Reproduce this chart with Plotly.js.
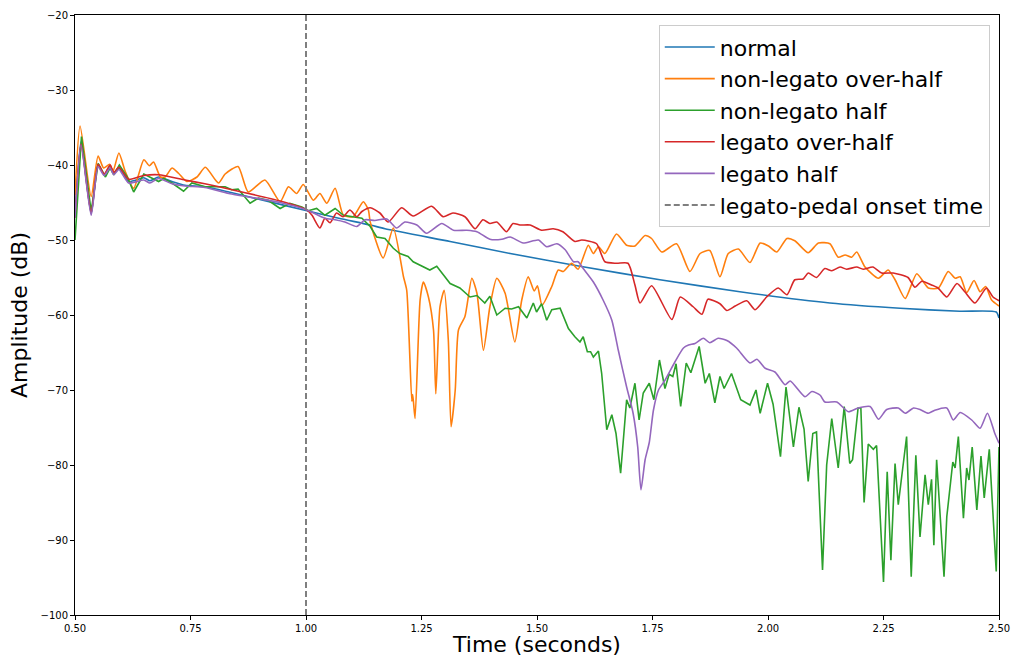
<!DOCTYPE html>
<html>
<head>
<meta charset="utf-8">
<script src="https://cdn.plot.ly/plotly-3.0.1.min.js"></script>
<style>html,body{margin:0;padding:0;background:#fff;}#chart{width:1014px;height:657px;}</style>
</head>
<body>
<div id="chart"></div>
<script>
// ---- data (time in seconds, amplitude in dB) ----
const seriesNames = ["normal", "non-legato over-half", "non-legato half", "legato over-half", "legato half"];
const seriesColors = ["#1f77b4", "#ff7f0e", "#2ca02c", "#d62728", "#9467bd"];

const normalT = [0.500,0.513,0.535,0.550,0.563,0.576,0.584,0.595,0.616,0.649,0.662,0.681,0.710,0.738,0.781,0.833,0.900,1.002,1.071,1.139,1.171,1.312,1.442,1.593,1.766,1.939,2.134,2.286,2.415,2.494,2.500];
const normalDb = [-47,-36.9,-46.5,-39.9,-41.3,-40.1,-41.1,-40.4,-42.2,-41.7,-42.1,-41.6,-42.2,-42.7,-42.9,-43.6,-44.6,-46.1,-47.1,-48.0,-48.5,-50.2,-51.8,-53.5,-55.3,-56.9,-58.4,-59.1,-59.5,-59.6,-60.4];

const nlOverT = [0.500,0.511,0.535,0.550,0.562,0.575,0.582,0.595,0.609,0.627,0.649,0.661,0.670,0.685,0.695,0.710,0.724,0.742,0.764,0.782,0.804,0.811,0.825,0.853,0.875,0.911,0.944,0.962,0.980,0.994,1.016,1.030,1.045,1.063,1.081,1.102,1.124,1.135,1.139,1.167,1.189,1.211,1.218,1.229,1.231,1.236,1.247,1.254,1.265,1.276,1.281,1.290,1.299,1.308,1.314,1.323,1.330,1.344,1.359,1.370,1.384,1.398,1.413,1.431,1.452,1.467,1.481,1.494,1.501,1.511,1.532,1.546,1.557,1.575,1.589,1.611,1.622,1.633,1.647,1.672,1.694,1.712,1.734,1.748,1.770,1.802,1.831,1.853,1.874,1.896,1.914,1.936,1.961,1.983,2.001,2.019,2.041,2.058,2.087,2.109,2.134,2.152,2.167,2.181,2.192,2.210,2.239,2.260,2.275,2.297,2.322,2.347,2.369,2.390,2.405,2.416,2.430,2.446,2.459,2.471,2.484,2.500];
const nlOverDb = [-44,-34.8,-44.2,-38.8,-40.4,-39.9,-40.9,-38.4,-40.9,-43.1,-39.3,-40.1,-39.6,-41.6,-41.6,-40.4,-41.1,-42.2,-41.6,-40.3,-42.0,-42.4,-41.2,-40.2,-43.6,-42.0,-44.9,-42.9,-43.8,-42.6,-44.7,-43.8,-45.1,-43.1,-46.7,-46.9,-44.9,-46.0,-47.6,-52.4,-48.4,-54.9,-56.7,-71.5,-70.6,-73.8,-58.0,-55.6,-57.6,-62.0,-70.5,-58.9,-56.7,-63.3,-74.9,-70.0,-62.0,-60.2,-55.1,-57.1,-64.7,-58.9,-55.1,-57.1,-63.6,-58.0,-54.9,-56.8,-56.1,-58.7,-56.2,-54.0,-54.2,-53.1,-53.9,-50.7,-51.8,-50.9,-51.8,-49.2,-50.7,-50.8,-49.4,-49.8,-51.6,-50.5,-54.2,-51.8,-51.4,-54.9,-51.8,-51.2,-53.0,-50.4,-50.8,-51.6,-49.8,-50.1,-51.7,-50.4,-50.5,-52.3,-52.0,-52.3,-51.6,-53.6,-55.1,-54.0,-55.3,-57.8,-54.5,-56.4,-56.4,-54.2,-55.1,-54.9,-57.0,-55.4,-56.9,-56.2,-58.0,-58.8];

const nlHalfT = [0.500,0.514,0.535,0.550,0.566,0.576,0.584,0.596,0.613,0.627,0.649,0.663,0.681,0.692,0.710,0.735,0.753,0.782,0.825,0.839,0.853,0.879,0.897,0.918,0.944,0.965,0.991,1.005,1.023,1.041,1.063,1.081,1.099,1.121,1.139,1.153,1.171,1.189,1.203,1.221,1.232,1.254,1.268,1.283,1.312,1.333,1.355,1.370,1.387,1.398,1.413,1.431,1.445,1.460,1.478,1.492,1.499,1.510,1.521,1.532,1.550,1.568,1.582,1.593,1.600,1.609,1.616,1.622,1.633,1.640,1.651,1.662,1.671,1.681,1.690,1.694,1.701,1.712,1.721,1.730,1.743,1.753,1.765,1.777,1.786,1.794,1.801,1.811,1.823,1.833,1.851,1.864,1.873,1.885,1.896,1.905,1.921,1.941,1.961,1.974,1.983,1.999,2.011,2.027,2.039,2.055,2.067,2.078,2.087,2.097,2.105,2.118,2.127,2.138,2.152,2.165,2.177,2.183,2.195,2.201,2.208,2.217,2.228,2.235,2.250,2.258,2.266,2.275,2.282,2.289,2.300,2.310,2.320,2.329,2.340,2.347,2.354,2.359,2.365,2.381,2.387,2.400,2.405,2.412,2.423,2.430,2.435,2.442,2.452,2.461,2.468,2.479,2.494,2.500];
const nlHalfDb = [-50,-36.2,-46.2,-39.8,-41.6,-40.4,-41.3,-40.0,-41.6,-43.6,-41.2,-41.6,-42.2,-41.8,-42.4,-43.5,-42.4,-42.9,-42.9,-43.3,-43.2,-45.1,-44.4,-44.7,-45.8,-45.1,-45.6,-46.1,-45.8,-46.7,-45.8,-46.7,-46.9,-47.1,-48.2,-49.6,-49.8,-51.1,-51.8,-52.2,-52.9,-53.6,-54.0,-53.5,-55.8,-56.4,-57.6,-57.4,-58.4,-57.5,-60.0,-59.1,-59.2,-58.9,-60.4,-58.4,-59.6,-58.5,-60.7,-59.3,-59.1,-61.8,-62.9,-63.6,-62.9,-64.9,-64.9,-65.6,-64.8,-67.8,-75.3,-73.3,-75.8,-81.1,-73.6,-71.3,-72.4,-69.1,-74.0,-70.4,-69.1,-71.3,-66.0,-69.8,-67.9,-68.2,-66.5,-72.2,-66.4,-67.7,-64.2,-69.1,-67.8,-71.7,-68.2,-69.8,-67.8,-71.3,-72.0,-70.0,-73.1,-69.1,-71.9,-78.9,-69.6,-77.6,-72.3,-75.2,-82.2,-75.8,-75.6,-94.0,-80.0,-73.8,-80.4,-72.2,-79.8,-79.3,-72.4,-72.4,-85.0,-77.2,-77.9,-77.4,-95.6,-80.9,-92.7,-79.8,-85.3,-82.0,-76.2,-94.9,-78.7,-89.6,-81.3,-85.3,-81.9,-90.7,-79.3,-94.9,-86.9,-79.6,-80.4,-76.2,-87.1,-80.4,-82.0,-77.6,-86.0,-78.8,-84.4,-77.9,-94.2,-77.6];

const lgOverT = [0.500,0.513,0.535,0.550,0.563,0.576,0.584,0.595,0.616,0.649,0.681,0.738,0.781,0.840,0.944,1.002,1.013,1.030,1.041,1.052,1.066,1.080,1.095,1.110,1.121,1.139,1.160,1.178,1.207,1.232,1.272,1.297,1.318,1.344,1.366,1.383,1.398,1.413,1.434,1.448,1.463,1.485,1.510,1.535,1.556,1.582,1.597,1.629,1.647,1.672,1.697,1.712,1.723,1.748,1.792,1.810,1.838,1.857,1.870,1.896,1.911,1.929,1.954,1.972,1.997,2.022,2.041,2.058,2.076,2.087,2.105,2.123,2.138,2.156,2.170,2.192,2.206,2.227,2.246,2.271,2.303,2.318,2.333,2.354,2.368,2.387,2.409,2.426,2.448,2.473,2.487,2.500];
const lgOverDb = [-47,-37.2,-46.4,-39.9,-41.2,-40.0,-41.0,-40.3,-41.9,-41.4,-41.3,-42.0,-42.5,-43.3,-44.8,-46.0,-46.7,-48.4,-47.1,-47.7,-46.4,-46.9,-46.0,-46.9,-46.2,-45.7,-46.4,-47.6,-45.7,-46.8,-45.5,-46.9,-46.4,-46.9,-48.5,-47.3,-47.8,-47.6,-48.9,-47.8,-48.0,-48.0,-48.7,-48.5,-48.9,-50.2,-50.0,-50.5,-52.9,-53.1,-53.1,-56.0,-58.4,-56.1,-60.6,-57.6,-58.9,-59.9,-57.9,-58.5,-59.4,-58.8,-58.1,-59.3,-57.6,-56.4,-57.3,-55.3,-55.2,-54.4,-55.0,-53.8,-54.1,-53.6,-53.9,-53.6,-53.9,-53.6,-54.4,-54.4,-55.0,-56.3,-55.5,-56.0,-56.4,-57.6,-55.8,-56.9,-58.4,-56.4,-57.6,-58.1];

const lgHalfT = [0.500,0.513,0.535,0.550,0.563,0.576,0.584,0.595,0.616,0.649,0.662,0.681,0.710,0.738,0.781,0.833,0.944,1.002,1.041,1.063,1.084,1.110,1.128,1.149,1.175,1.196,1.214,1.240,1.261,1.294,1.319,1.348,1.370,1.398,1.424,1.442,1.470,1.503,1.521,1.543,1.561,1.579,1.589,1.600,1.622,1.643,1.662,1.676,1.694,1.708,1.718,1.725,1.734,1.743,1.752,1.763,1.777,1.799,1.817,1.828,1.842,1.860,1.874,1.892,1.911,1.932,1.961,1.976,1.994,2.015,2.037,2.048,2.080,2.095,2.113,2.123,2.149,2.174,2.195,2.221,2.239,2.257,2.282,2.297,2.315,2.329,2.347,2.361,2.387,2.401,2.416,2.441,2.459,2.475,2.491,2.500];
const lgHalfDb = [-47,-37.3,-46.7,-40.2,-41.4,-40.4,-41.3,-40.6,-42.4,-42.0,-42.4,-41.8,-42.5,-42.8,-43.0,-43.8,-45.0,-46.0,-47.1,-47.3,-47.6,-48.2,-47.3,-47.4,-47.2,-48.4,-47.6,-48.0,-49.1,-47.8,-48.7,-48.7,-48.9,-49.9,-49.9,-49.6,-50.4,-50.0,-50.9,-50.5,-51.3,-52.9,-52.9,-53.8,-55.6,-58.0,-60.7,-64.7,-69.6,-73.1,-77.6,-83.3,-79.3,-77.0,-72.7,-70.0,-68.7,-66.2,-64.4,-64.0,-63.8,-63.1,-63.7,-63.1,-63.4,-64.4,-66.4,-65.9,-67.1,-67.6,-69.3,-68.8,-70.9,-70.2,-70.7,-71.6,-71.6,-72.9,-72.4,-72.2,-73.9,-72.6,-72.4,-73.1,-72.4,-72.6,-73.1,-72.7,-72.4,-74.0,-73.0,-74.0,-75.1,-73.1,-75.8,-77.1];

const pedalName = "legato-pedal onset time";
const pedalT = [1.0, 1.0];
const pedalDb = [-100, -20];

const xTickVals = [0.50, 0.75, 1.00, 1.25, 1.50, 1.75, 2.00, 2.25, 2.50];
const yTickVals = [-100, -90, -80, -70, -60, -50, -40, -30, -20];

// ---- traces ----
const xs = [normalT, nlOverT, nlHalfT, lgOverT, lgHalfT];
const ys = [normalDb, nlOverDb, nlHalfDb, lgOverDb, lgHalfDb];
const traces = seriesNames.map((name, i) => ({
  type: 'scatter', mode: 'lines', name: name, legendgroup: 'g' + i,
  x: xs[i], y: ys[i],
  line: {color: seriesColors[i], width: 1.6, shape: i === 2 ? 'linear' : 'spline', smoothing: 0.6},
  hoverinfo: 'skip'
}));
traces.push({
  type: 'scatter', mode: 'lines', name: pedalName, legendgroup: 'g5',
  x: pedalT, y: pedalDb,
  line: {color: '#7f7f7f', width: 2, dash: '6px,3px'},
  hoverinfo: 'skip'
});

const font = "'DejaVu Sans', sans-serif";
const layout = {
  width: 1014, height: 657,
  margin: {l: 75, r: 15, t: 15, b: 42, pad: 0},
  paper_bgcolor: '#ffffff', plot_bgcolor: '#ffffff',
  font: {family: font, color: '#000000', size: 10},
  showlegend: true,
  legend: {
    x: 0.990, y: 0.983, xanchor: 'right', yanchor: 'top',
    bgcolor: 'rgba(255,255,255,0.85)', bordercolor: '#cccccc', borderwidth: 1,
    font: {family: font, size: 22, color: '#000000'},
    tracegroupgap: 0, itemwidth: 50
  },
  xaxis: {
    range: [0.5, 2.5], tickvals: xTickVals, tickformat: '.2f',
    showgrid: false, zeroline: false,
    showline: true, linecolor: '#000000', linewidth: 1, mirror: true,
    ticks: 'outside', ticklen: 4, tickcolor: '#000000', tickwidth: 1,
    tickfont: {family: font, size: 10, color: '#000000'},
    title: {text: 'Time (seconds)', font: {family: font, size: 22, color: '#000000'}, standoff: 4},
    automargin: false
  },
  yaxis: {
    range: [-100, -20], tickvals: yTickVals,
    showgrid: false, zeroline: false,
    showline: true, linecolor: '#000000', linewidth: 1, mirror: true,
    ticks: 'outside', ticklen: 4, tickcolor: '#000000', tickwidth: 1,
    tickfont: {family: font, size: 10, color: '#000000'},
    title: {text: 'Amplitude (dB)', font: {family: font, size: 22, color: '#000000'}, standoff: 6},
    automargin: false
  }
};

Plotly.newPlot('chart', traces, layout, {displayModeBar: false, staticPlot: true});
</script>
</body>
</html>
